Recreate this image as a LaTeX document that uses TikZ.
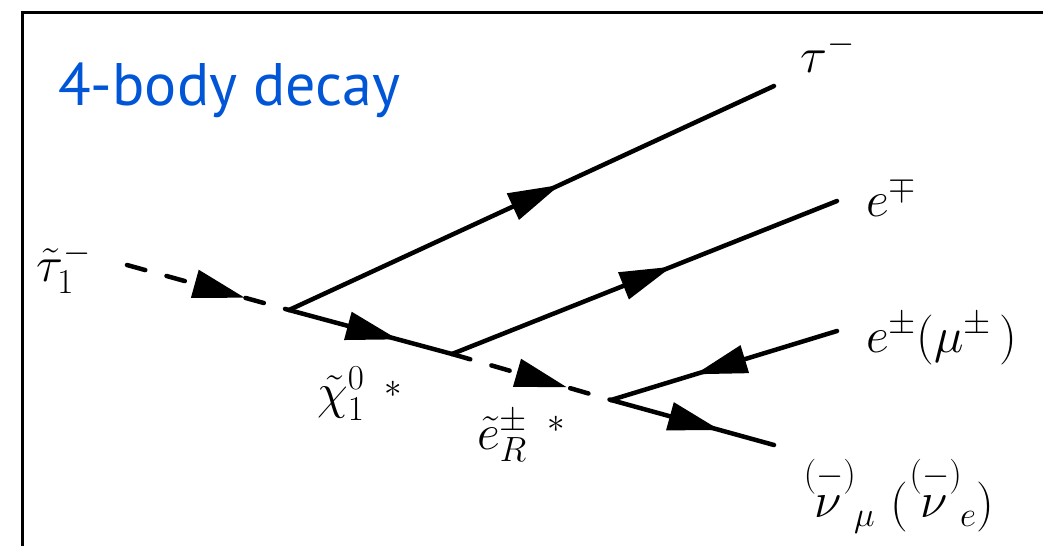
\RequirePackage{fix-cm}
\documentclass[tikz,border=0pt]{standalone}
\usepackage{fontspec}
\newfontfamily\titlefont{PT Sans}
\usetikzlibrary{arrows.meta,decorations.markings}
\definecolor{titleblue}{RGB}{0,86,214}
\tikzset{
  prop/.style={line width=4.5pt, line cap=round},
  scal/.style={prop, dash pattern=on 19pt off 22pt},
  arr/.style={postaction={decorate,decoration={markings,
      mark=at position #1 with {\arrow{Triangle[length=52pt,width=28pt]}}}}},
  lbl/.style={inner sep=0pt, anchor=base west, font=\fontsize{50}{58}\selectfont},
  frame/.style={line width=3pt},
}
\begin{document}
\begin{tikzpicture}[x=1pt,y=-1pt]
\useasboundingbox (0,0) rectangle (1043,546);
% frame
\coordinate (fbl) at (22,546);
\coordinate (ftl) at (22,12);
\coordinate (ftr) at (1043,12);
\draw[frame] (fbl) -- (ftl) -- (ftr);
% title
\node[inner sep=0pt, anchor=base west, text=titleblue,
      font=\titlefont\fontsize{60}{70}\selectfont] (title) at (58,105) {4-body decay};
% vertices and ends
\coordinate (A) at (127,265);
\coordinate (V1) at (289,310);
\coordinate (T) at (774,86);
\coordinate (V2) at (452,354);
\coordinate (E1) at (837,201);
\coordinate (V3) at (611,400);
\coordinate (E2) at (837,331);
\coordinate (N) at (774,445);
% propagators
\draw[scal, arr=0.728] (A) -- (V1);
\draw[prop, arr=0.559] (V1) -- (T);
\draw[prop, arr=0.669] (V1) -- (V2);
\draw[scal, arr=0.723] (V2) -- (V3);
\draw[prop, arr=0.571] (V2) -- (E1);
\draw[prop, arr=0.628] (E2) -- (V3);
\draw[prop, arr=0.669] (V3) -- (N);
% labels
\node[lbl] (lstau) at (36,281) {$\tilde\tau_1^-$};
\node[lbl] (lchi) at (317,408) {$\tilde\chi_1^0\hspace{20pt}\raisebox{11pt}{$\scriptstyle\ast$}$};
\node[lbl] (lsel) at (477,449) {$\tilde e_R^\pm\hspace{20pt}\raisebox{17pt}{$\scriptstyle\ast$}$};
\node[lbl] (ltau) at (800,72) {$\tau^-$};
\node[lbl] (le1) at (866,216) {$e^\mp$};
\node[lbl] (le2) at (866,352) {$e^\pm(\mu^\pm\,)$};
\node[lbl] (lnu) at (802,519) {${\stackrel{(-)}{\nu}}_\mu\ ({\stackrel{(-)}{\nu}}_e)$};
\end{tikzpicture}
\end{document}
